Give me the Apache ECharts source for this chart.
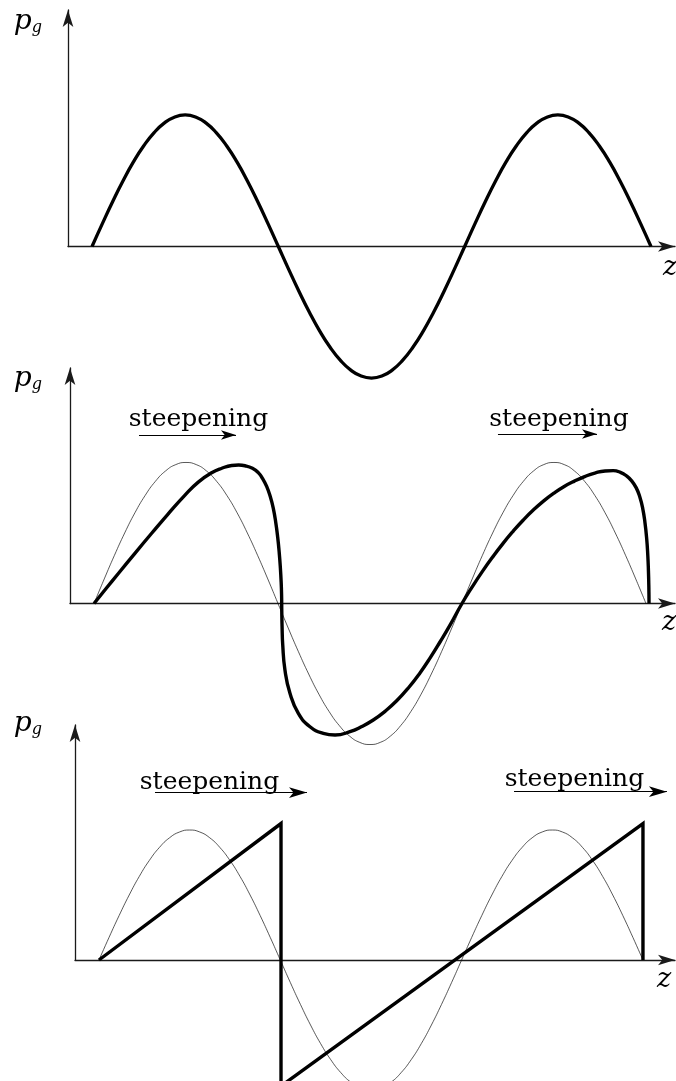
<!DOCTYPE html>
<html>
<head>
<meta charset="utf-8">
<script src="https://cdn.jsdelivr.net/npm/echarts@6/dist/echarts.min.js"></script>
<style>
  html, body { margin: 0; padding: 0; background: #fff; }
  #chart { width: 676px; height: 1081px; }
</style>
</head>
<body>
<div id="chart"></div>
<script>
// Phase along z in degrees: three half-wavelengths of the acoustic wave.
const phase = [0, 10, 20, 30, 40, 50, 60, 70, 80, 90, 100, 110, 120, 130, 140, 150, 160, 170, 180,
  190, 200, 210, 220, 230, 240, 250, 260, 270, 280, 290, 300, 310, 320, 330, 340, 350, 360,
  370, 380, 390, 400, 410, 420, 430, 440, 450, 460, 470, 480, 490, 500, 510, 520, 530, 540];

// Initial (undistorted) pressure profile p_g, normalised to its amplitude.
const initialWave = [0, 0.174, 0.342, 0.5, 0.643, 0.766, 0.866, 0.94, 0.985, 1, 0.985, 0.94, 0.866, 0.766, 0.643, 0.5, 0.342, 0.174, 0,
  -0.174, -0.342, -0.5, -0.643, -0.766, -0.866, -0.94, -0.985, -1, -0.985, -0.94, -0.866, -0.766, -0.643, -0.5, -0.342, -0.174, 0,
  0.174, 0.342, 0.5, 0.643, 0.766, 0.866, 0.94, 0.985, 1, 0.985, 0.94, 0.866, 0.766, 0.643, 0.5, 0.342, 0.174, 0];

// Partially steepened profile: [phase, p_g].
const steepenedWave = [
  [0, 0], [12, 0.108], [23.8, 0.213], [40, 0.356], [56.4, 0.498], [72, 0.631], [89.0, 0.769],
  [102, 0.861], [115.1, 0.927], [125, 0.959], [134.7, 0.979], [141.5, 0.982], [147.7, 0.977],
  [155, 0.959], [160.7, 0.928], [165, 0.885], [168.9, 0.83], [172.5, 0.757], [175.4, 0.675],
  [177.8, 0.575], [179.7, 0.47], [181.2, 0.36], [182.3, 0.255], [183.1, 0.15], [183.5, 0.06],
  [183.7, -0.06], [184.0, -0.17], [184.6, -0.29], [186.8, -0.472], [191.7, -0.637], [199.9, -0.779],
  [211.3, -0.874], [224.3, -0.921], [235.8, -0.933], [250.4, -0.909], [262, -0.872],
  [273.2, -0.826], [285, -0.763], [296.1, -0.69], [307.5, -0.599], [318.9, -0.492],
  [329, -0.384], [338.5, -0.273], [348, -0.157], [360, 0],
  [370, 0.118], [380, 0.228], [390, 0.33], [400, 0.425], [410, 0.512], [420, 0.592],
  [430, 0.664], [440, 0.728], [450, 0.783], [460, 0.83], [470, 0.868], [480, 0.9],
  [490, 0.925], [500, 0.94], [508, 0.942], [515, 0.93], [521, 0.905], [526, 0.87],
  [530.5, 0.82], [534, 0.755], [536.8, 0.675], [539, 0.575], [540.7, 0.46], [541.8, 0.34],
  [542.4, 0.235], [542.8, 0.12], [543.0, 0]
];

// Fully developed sawtooth (shock) profile: [phase, p_g].
const sawtoothWave = [[0, 0], [180.7, 1.05], [180.7, -0.97], [540, 1.05], [540, 0]];

// "steepening" annotations: arrow [fromPhase, toPhase, height] and caption centre [phase, height].
const steepArrows2 = [[44.0, 138.9, 1.195], [395.2, 492.1, 1.202]];
const steepText2 = [[102.2, 1.305], [454.9, 1.305]];
const steepArrows3 = [[55.6, 206.5, 1.288], [412.0, 563.8, 1.295]];
const steepText3 = [[109.7, 1.365], [472.0, 1.385]];
const captionText = 'steepening';

const xLabel = 'z';
const yLabel = '{p|p}{g|g}';

const serif = 'DejaVu Serif';
const ink = '#000';
const axisInk = '#1a1a1a';

// Layout of the three stacked panels (axis arrows end at the grid edges).
const panels = [
  { grid: { left: 68, top: 10, width: 607, height: 236.5 }, x: [-23.2, 563.2], y: [0, 1.798],
    yNameGap: -26, yNamePad: 26, xNameGap: -12, xNamePad: 8 },
  { grid: { left: 70, top: 368, width: 605, height: 235.5 }, x: [-23.5, 568.4], y: [0, 1.670],
    yNameGap: -25, yNamePad: 28, xNameGap: -13, xNamePad: 6 },
  { grid: { left: 75, top: 725, width: 600, height: 235 }, x: [-23.8, 571.8], y: [0, 1.808],
    yNameGap: -13, yNamePad: 33, xNameGap: -18, xNamePad: 6 }
];

const axisLine = {
  show: true,
  onZero: false,
  symbol: ['none', 'arrow'],
  symbolSize: [8, 17],
  lineStyle: { color: axisInk, width: 1.3 }
};

// Grids are placed exactly; the axis names may sit outside them.
const grids = panels.map(p => Object.assign({ outerBoundsMode: 'none', containLabel: false }, p.grid));

const xAxes = panels.map((p, i) => ({
  type: 'value', gridIndex: i, min: p.x[0], max: p.x[1],
  axisLine: axisLine, axisTick: { show: false }, axisLabel: { show: false }, splitLine: { show: false },
  name: xLabel, nameLocation: 'end', nameGap: p.xNameGap,
  nameTextStyle: { fontFamily: serif, fontStyle: 'italic', fontSize: 27, color: ink,
    verticalAlign: 'top', align: 'left', padding: [p.xNamePad, 0, 0, 0] }
}));

const yAxes = panels.map((p, i) => ({
  type: 'value', gridIndex: i, min: p.y[0], max: p.y[1],
  axisLine: axisLine, axisTick: { show: false }, axisLabel: { show: false }, splitLine: { show: false },
  name: yLabel, nameLocation: 'end', nameGap: p.yNameGap,
  nameTextStyle: {
    align: 'right', verticalAlign: 'bottom', padding: [0, p.yNamePad, 0, 0],
    rich: {
      p: { fontFamily: serif, fontStyle: 'italic', fontSize: 28, color: ink },
      g: { fontFamily: serif, fontStyle: 'italic', fontSize: 16, color: ink, padding: [12, 0, 0, 0] }
    }
  }
}));

const initialPairs = phase.map((ph, k) => [ph, initialWave[k]]);

function wave(data, idx, width, color, smooth, extra) {
  return Object.assign({
    type: 'line', xAxisIndex: idx, yAxisIndex: idx, data: data,
    showSymbol: false, symbol: 'none', smooth: smooth, clip: false, silent: true,
    lineStyle: { color: color, width: width, join: 'miter' }
  }, extra || {});
}

function annotations(arrows, texts, headSize) {
  return {
    markLine: {
      silent: true, symbol: ['none', 'arrow'], symbolSize: headSize,
      label: { show: false },
      lineStyle: { type: 'solid', color: ink, width: 1.2 },
      emphasis: { disabled: true },
      data: arrows.map(a => [{ coord: [a[0], a[2]] }, { coord: [a[1], a[2]] }])
    },
    markPoint: {
      silent: true, symbol: 'circle', symbolSize: 1,
      itemStyle: { color: 'rgba(0,0,0,0)' },
      label: { show: true, position: 'inside', formatter: captionText,
        fontFamily: serif, fontSize: 25, color: ink },
      data: texts.map(t => ({ coord: t }))
    }
  };
}

const series = [
  wave(initialPairs, 0, 3.3, ink, 0.5),
  wave(initialPairs, 1, 0.7, '#111', 0.5),
  wave(steepenedWave, 1, 3.4, ink, 0.5, annotations(steepArrows2, steepText2, [7, 15])),
  wave(initialPairs, 2, 0.7, '#111', 0.5),
  wave(sawtoothWave, 2, 3.4, ink, false, annotations(steepArrows3, steepText3, [8, 18]))
];

const chart = echarts.init(document.getElementById('chart'), null, { renderer: 'canvas' });
chart.setOption({
  animation: false,
  backgroundColor: '#fff',
  grid: grids,
  xAxis: xAxes,
  yAxis: yAxes,
  series: series
});
</script>
</body>
</html>
